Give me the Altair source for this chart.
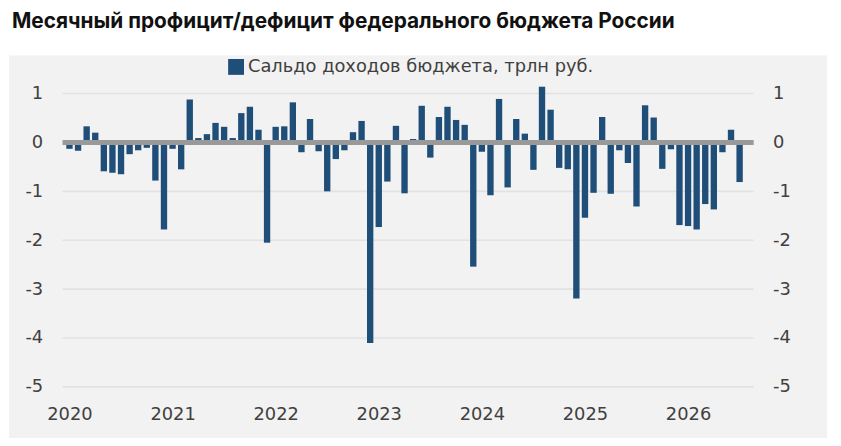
import altair as alt
import pandas as pd

title_text = "Месячный профицит/дефицит федерального бюджета России"
series_name = "Сальдо доходов бюджета, трлн руб."

years = [2020, 2021, 2022, 2023, 2024, 2025, 2026]
months = [f"{y}-{m:02d}" for y in years for m in range(1, 13)][:79]

values = [
    -0.13, -0.17, 0.33, 0.20, -0.59, -0.62, -0.65, -0.24, -0.16, -0.11, -0.78, -1.78,   # 2020
    -0.13, -0.55, 0.88, 0.09, 0.17, 0.40, 0.32, 0.09, 0.60, 0.73, 0.26, -2.05,        # 2021
    0.32, 0.33, 0.82, -0.20, 0.48, -0.18, -1.00, -0.34, -0.16, 0.21, 0.44, -4.10,     # 2022
    -1.73, -0.80, 0.34, -1.04, 0.07, 0.75, -0.31, 0.52, 0.73, 0.46, 0.36, -2.54,      # 2023
    -0.19, -1.08, 0.89, -0.92, 0.48, 0.18, -0.56, 1.14, 0.67, -0.52, -0.55, -3.19,    # 2024
    -1.54, -1.03, 0.52, -1.05, -0.16, -0.42, -1.31, 0.76, 0.51, -0.54, -0.14, -1.69,  # 2025
    -1.71, -1.78, -1.26, -1.37, -0.20, 0.26, -0.81,                                  # 2026
]

y_ticks = [-5, -4, -3, -2, -1, 0, 1]
grid_vals = [-5, -4, -3, -2, -1, 1]
year_tick_idx = [0, 12, 24, 36, 48, 60, 72]

df = pd.DataFrame({"month": months, "i": list(range(len(months))), "v": values, "s": series_name})
grid_df = pd.DataFrame({"g": grid_vals})
one = pd.DataFrame({"a": [0]})

W, H = 697, 305.7
FONT = "DejaVu Sans"
FS = 18
LC = "#404040"
yscale = alt.Scale(domain=[-5.0, 1.2], nice=False, zero=False)
xscale = alt.Scale(domain=[-0.23, 79.06], nice=False, zero=False)

bg = alt.Chart(one).mark_rect(color="#f2f2f2", clip=False).encode(
    x=alt.value(-54), x2=alt.value(771), y=alt.value(-28.6), y2=alt.value(357.4)
)

grid = alt.Chart(grid_df).mark_rule(color="#e2e2e2", strokeWidth=1.6).encode(
    y=alt.Y("g:Q", scale=yscale, axis=None),
    x=alt.value(0), x2=alt.value(W),
)

bars = alt.Chart(df).mark_bar(size=6.4).encode(
    x=alt.X("i:Q", scale=xscale, axis=alt.Axis(
        values=year_tick_idx, labelExpr="'' + (2020 + datum.value / 12)",
        ticks=False, domain=False, grid=False, labelFont=FONT, labelFontSize=FS,
        labelColor=LC, labelPadding=19, title=None, zindex=2)),
    y=alt.Y("v:Q", scale=yscale, axis=alt.Axis(
        orient="left", values=y_ticks, labelExpr="'' + datum.value", ticks=False,
        domain=False, grid=False, labelFont=FONT, labelFontSize=FS, labelColor=LC,
        labelPadding=20, title=None, zindex=2)),
    color=alt.Color("s:N", scale=alt.Scale(range=["#1f4e79"]), legend=alt.Legend(
        title=None, orient="none", legendX=166, legendY=-26, symbolType="square",
        symbolSize=256, symbolStrokeWidth=0, labelFont=FONT, labelFontSize=FS,
        labelColor=LC, padding=0, labelOffset=3, labelLimit=500)),
)

zero = alt.Chart(one).mark_rule(color="#999999", strokeWidth=5).encode(
    y=alt.Y("datum_zero:Q", scale=yscale, axis=alt.Axis(
        orient="right", values=y_ticks, labelExpr="'' + datum.value", ticks=False,
        domain=False, grid=False, labelFont=FONT, labelFontSize=FS, labelColor=LC,
        labelPadding=19, labelAlign="left", title=None, zindex=2)),
    x=alt.value(0), x2=alt.value(W),
).transform_calculate(datum_zero="0")

chart = alt.layer(bg, grid, bars, zero).resolve_axis(y="independent").properties(
    width=W, height=H,
    autosize=alt.AutoSizeParams(type="none"),
    padding={"left": 55, "top": 74.6, "right": 80, "bottom": 50},
    title=alt.TitleParams(title_text, anchor="start", font="Inter", fontSize=21,
                          fontWeight="bold", color="#111111", dx=3, offset=24),
).configure_view(stroke=None).configure(background="white")

chart.save("out.html", embed_options={"renderer": "svg", "actions": False})
